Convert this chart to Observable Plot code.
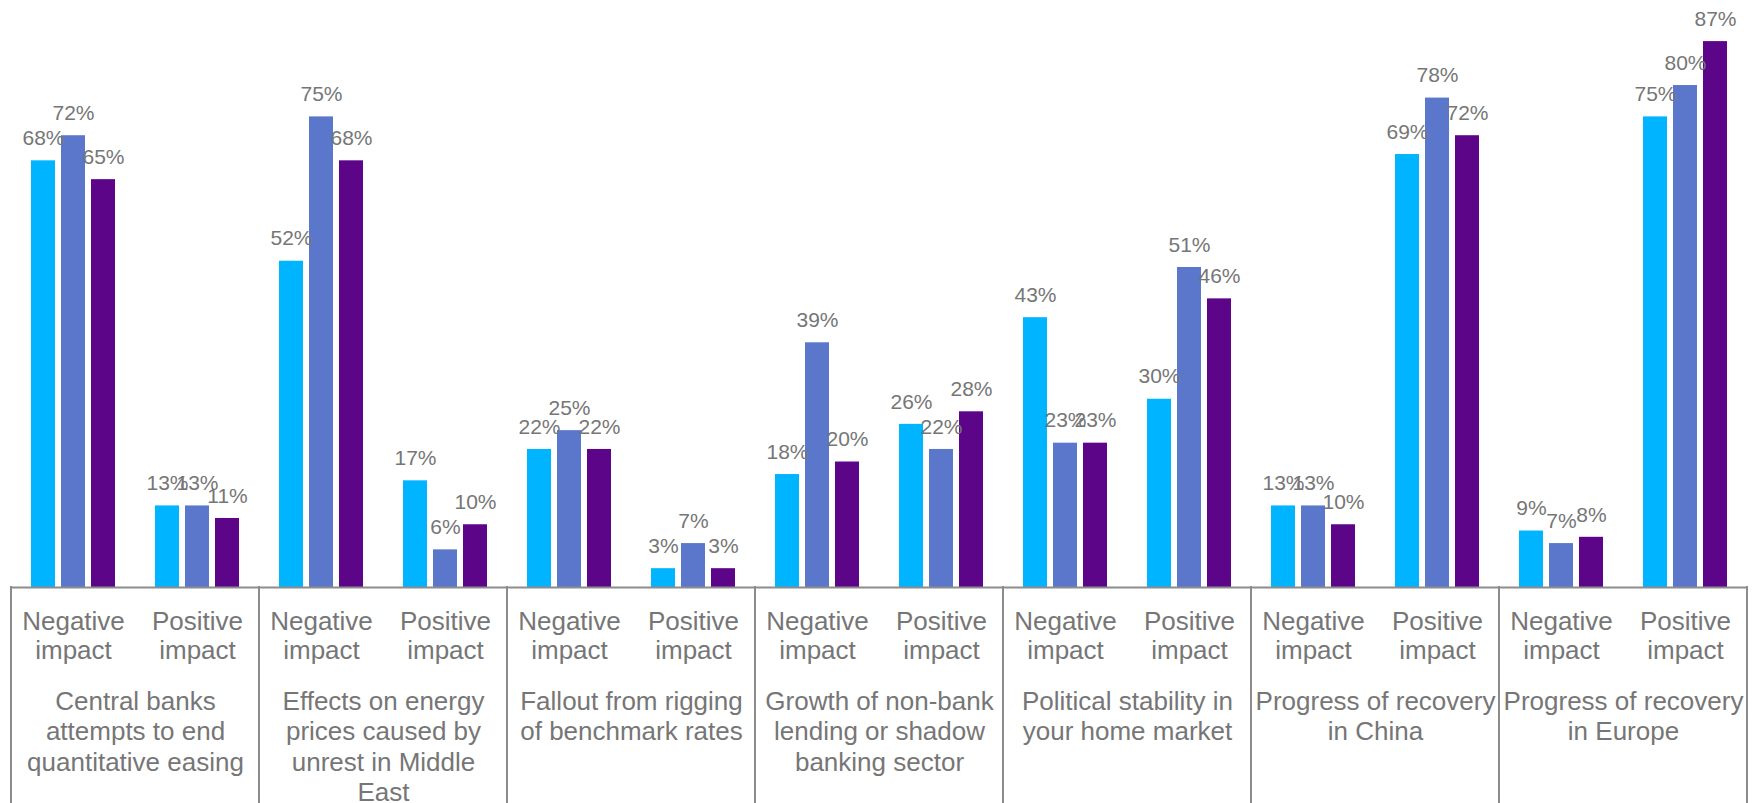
<!DOCTYPE html>
<html><head><meta charset="utf-8">
<script src="https://cdn.jsdelivr.net/npm/d3@7"></script>
<script src="https://cdn.jsdelivr.net/npm/@observablehq/plot@0.6"></script>
<style>
body{margin:0;background:#fff;}
#chart svg{display:block;}
</style>
</head><body><div id="chart"></div>
<script>
const topics = [
  "Central banks\nattempts to end\nquantitative easing",
  "Effects on energy\nprices caused by\nunrest in Middle\nEast",
  "Fallout from rigging\nof benchmark rates",
  "Growth of non-bank\nlending or shadow\nbanking sector",
  "Political stability in\nyour home market",
  "Progress of recovery\nin China",
  "Progress of recovery\nin Europe"
];
const impacts = ["Negative\nimpact", "Positive\nimpact"];
const seriesNames = ["Series 1", "Series 2", "Series 3"];
const seriesColors = ["#00B4FF", "#5B77CC", "#5C0589"];
// values per sub-category, in order: topic 1 negative, topic 1 positive, topic 2 negative, ...
const series1 = [68, 13, 52, 17, 22, 3, 18, 26, 43, 30, 13, 69, 9, 75];
const series2 = [72, 13, 75, 6, 25, 7, 39, 22, 23, 51, 13, 78, 7, 80];
const series3 = [65, 11, 68, 10, 22, 3, 20, 28, 23, 46, 10, 72, 8, 87];

const textColor = "#767676";
const lineColor = "#8c8c8c";
const font = "'Liberation Sans', Arial, sans-serif";

const keys = topics.flatMap((t, ti) => impacts.map((m, mi) => ti + "-" + mi));
const allSeries = [series1, series2, series3];
const rows = keys.flatMap((k, ki) => seriesNames.map((s, si) => ({key: k, series: s, value: allSeries[si][ki]})));
const subRows = keys.map((k, ki) => ({key: k, label: impacts[ki % 2]}));
const topicRows = topics.map((t, ti) => ({key: ti + "-0", label: t}));

const chart = Plot.plot({
  width: 1759,
  height: 803,
  marginLeft: 9,
  marginRight: 10,
  marginTop: 0,
  marginBottom: 216,
  style: {fontFamily: font, background: "#fff"},
  fx: {domain: keys, padding: 0, axis: null},
  x: {domain: seriesNames, paddingInner: 0.2, paddingOuter: 0.63, axis: null},
  y: {domain: [0, 93.55], axis: null},
  color: {domain: seriesNames, range: seriesColors},
  marks: [
    Plot.barY(rows, {fx: "key", x: "series", y: "value", fill: "series"}),
    Plot.text(rows, {fx: "key", x: "series", y: "value", text: d => d.value + "%", dy: -22.5, fontSize: 21, fill: textColor}),
    Plot.ruleY([0], {stroke: lineColor, strokeWidth: 2}),
    Plot.text(subRows, {fx: "key", text: "label", frameAnchor: "bottom", lineAnchor: "top", dy: 22, fontSize: 26, lineHeight: 1.115, fill: textColor}),
    Plot.text(topicRows, {fx: "key", text: "label", frameAnchor: "bottom-right", textAnchor: "middle", lineAnchor: "top", dy: 100.5, fontSize: 26, lineHeight: 1.173, fill: textColor})
  ]
});

document.getElementById("chart").appendChild(chart);

// topic dividers in the category box below the axis, placed with Plot's own scales
const fxs = chart.scale("fx");
const ys = chart.scale("y");
const bw = fxs.bandwidth;
const bandStart = k => fxs.apply ? fxs.apply(k) : d3.scaleBand().domain(fxs.domain).range(fxs.range).paddingInner(0).paddingOuter(0)(k);
const y0 = ys.apply ? ys.apply(0) : 587;
const edges = topics.map((t, ti) => bandStart(ti + "-0"));
edges.push(bandStart(keys[keys.length - 1]) + bw);
d3.select(chart).append("g")
  .selectAll("line").data(edges).join("line")
  .attr("x1", d => d).attr("x2", d => d)
  .attr("y1", y0 - 1).attr("y2", 803)
  .attr("stroke", lineColor).attr("stroke-width", 2);
</script>
</body></html>
